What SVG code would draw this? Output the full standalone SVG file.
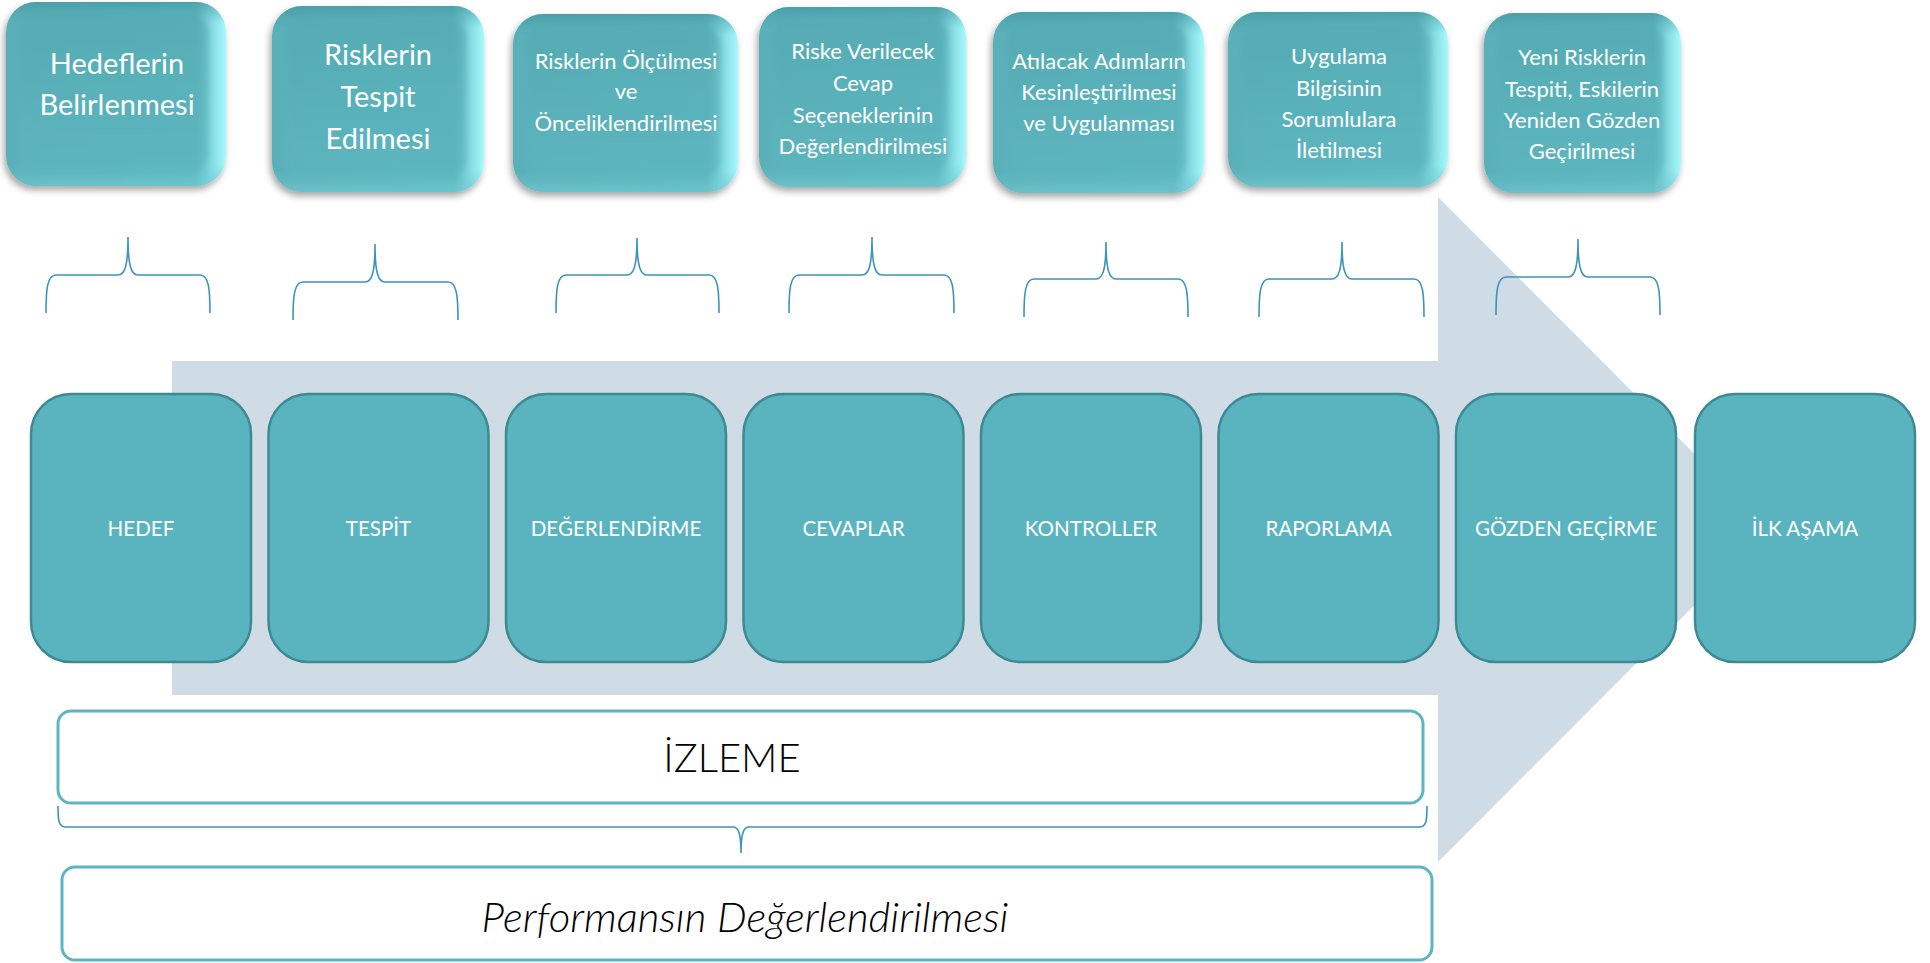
<svg xmlns="http://www.w3.org/2000/svg" width="1930" height="963" viewBox="0 0 1930 963">
<defs>
<style>
.top text{font-family:Lato,"Open Sans","Liberation Sans",sans-serif;fill:#ffffff;text-anchor:middle}
.big{font-size:29px}
.small{font-size:22px}
.step rect{fill:#5AB4C0;stroke:#3E8A93;stroke-width:2.5}
.step text{font-family:Lato,"Open Sans","Liberation Sans",sans-serif;font-size:20.6px;fill:#ffffff;text-anchor:middle}
.brace{fill:none;stroke:#3C93BD;stroke-width:1.6}
.panel rect{fill:#ffffff;stroke:#5BB6C2;stroke-width:3}
.panel text{font-family:Lato,"Open Sans","Liberation Sans",sans-serif;font-weight:300;fill:#000000;text-anchor:middle}
</style>
<linearGradient id="edgeH" x1="0" y1="0" x2="1" y2="0">
<stop offset="0" stop-color="#5AB0B9"/>
<stop offset="0.86" stop-color="#5EB8C1"/>
<stop offset="1" stop-color="#A6FAFE"/>
</linearGradient>
<linearGradient id="edgeV" x1="0" y1="0" x2="0" y2="1">
<stop offset="0" stop-color="#3F8E97" stop-opacity="0.55"/>
<stop offset="0.12" stop-color="#4C9EA7" stop-opacity="0"/>
<stop offset="0.88" stop-color="#6CC6CE" stop-opacity="0"/>
<stop offset="1" stop-color="#74CCD4" stop-opacity="0.6"/>
</linearGradient>
<linearGradient id="face" x1="0" y1="0" x2="0" y2="1">
<stop offset="0" stop-color="#54A9B2"/>
<stop offset="1" stop-color="#5DB7C0"/>
</linearGradient>
<filter id="sh" x="-10%" y="-10%" width="120%" height="125%">
<feDropShadow dx="-2" dy="4" stdDeviation="3.5" flood-color="#000" flood-opacity="0.35"/>
</filter>
<filter id="soft" x="-5%" y="-5%" width="110%" height="110%">
<feGaussianBlur stdDeviation="3"/>
</filter>
</defs>
<rect x="0" y="0" width="1930" height="963" fill="#ffffff"/>

<g id="arrow">
<polygon points="172,361 1438,361 1438,197 1770,529.5 1438,862 1438,695 172,695" fill="#CFDCE6"/>
</g>

<g id="top-boxes" class="top">
<g id="t1">
<rect x="6" y="2" width="220" height="184" rx="30" fill="url(#edgeH)" filter="url(#sh)"/>
<rect x="6" y="2" width="220" height="184" rx="30" fill="url(#edgeV)"/>
<rect x="20" y="14" width="188" height="158" rx="18" fill="url(#face)" opacity="0.7" filter="url(#soft)"/>
<text class="big" x="117" y="74">Hedeflerin</text>
<text class="big" x="117" y="115">Belirlenmesi</text>
</g>
<g id="t2">
<rect x="272" y="6" width="212" height="186" rx="30" fill="url(#edgeH)" filter="url(#sh)"/>
<rect x="272" y="6" width="212" height="186" rx="30" fill="url(#edgeV)"/>
<rect x="286" y="18" width="180" height="160" rx="18" fill="url(#face)" opacity="0.7" filter="url(#soft)"/>
<text class="big" x="378" y="65">Risklerin</text>
<text class="big" x="378" y="107">Tespit</text>
<text class="big" x="378" y="149">Edilmesi</text>
</g>
<g id="t3">
<rect x="513" y="14" width="225" height="178" rx="30" fill="url(#edgeH)" filter="url(#sh)"/>
<rect x="513" y="14" width="225" height="178" rx="30" fill="url(#edgeV)"/>
<rect x="527" y="26" width="193" height="152" rx="18" fill="url(#face)" opacity="0.7" filter="url(#soft)"/>
<text class="small" x="626" y="69">Risklerin Ölçülmesi</text>
<text class="small" x="626" y="99">ve</text>
<text class="small" x="626" y="131">Önceliklendirilmesi</text>
</g>
<g id="t4">
<rect x="759" y="7" width="207" height="180" rx="30" fill="url(#edgeH)" filter="url(#sh)"/>
<rect x="759" y="7" width="207" height="180" rx="30" fill="url(#edgeV)"/>
<rect x="773" y="19" width="175" height="154" rx="18" fill="url(#face)" opacity="0.7" filter="url(#soft)"/>
<text class="small" x="863" y="59">Riske Verilecek</text>
<text class="small" x="863" y="91">Cevap</text>
<text class="small" x="863" y="123">Seçeneklerinin</text>
<text class="small" x="863" y="154">Değerlendirilmesi</text>
</g>
<g id="t5">
<rect x="993" y="12" width="211" height="181" rx="30" fill="url(#edgeH)" filter="url(#sh)"/>
<rect x="993" y="12" width="211" height="181" rx="30" fill="url(#edgeV)"/>
<rect x="1007" y="24" width="179" height="155" rx="18" fill="url(#face)" opacity="0.7" filter="url(#soft)"/>
<text class="small" x="1099" y="69">Atılacak Adımların</text>
<text class="small" x="1099" y="100">Kesinleştirilmesi</text>
<text class="small" x="1099" y="131">ve Uygulanması</text>
</g>
<g id="t6">
<rect x="1228" y="12" width="220" height="175" rx="30" fill="url(#edgeH)" filter="url(#sh)"/>
<rect x="1228" y="12" width="220" height="175" rx="30" fill="url(#edgeV)"/>
<rect x="1242" y="24" width="188" height="149" rx="18" fill="url(#face)" opacity="0.7" filter="url(#soft)"/>
<text class="small" x="1339" y="64">Uygulama</text>
<text class="small" x="1339" y="96">Bilgisinin</text>
<text class="small" x="1339" y="127">Sorumlulara</text>
<text class="small" x="1339" y="158">İletilmesi</text>
</g>
<g id="t7">
<rect x="1484" y="13" width="197" height="180" rx="30" fill="url(#edgeH)" filter="url(#sh)"/>
<rect x="1484" y="13" width="197" height="180" rx="30" fill="url(#edgeV)"/>
<rect x="1498" y="25" width="165" height="154" rx="18" fill="url(#face)" opacity="0.7" filter="url(#soft)"/>
<text class="small" x="1582" y="65">Yeni Risklerin</text>
<text class="small" x="1582" y="97">Tespiti, Eskilerin</text>
<text class="small" x="1582" y="128">Yeniden Gözden</text>
<text class="small" x="1582" y="159">Geçirilmesi</text>
</g>
</g>

<g id="connectors">
<path class="brace" d="M46 313 C46 290,47 275,56 275 L118 275 C125 275,128 265,128 237 C128 265,131 275,138 275 L200 275 C209 275,210 290,210 313"/>
<path class="brace" d="M293 320 C293 297,294 282,303 282 L365 282 C372 282,375 272,375 244 C375 272,378 282,385 282 L448 282 C457 282,458 297,458 320"/>
<path class="brace" d="M556 313 C556 290,557 275,566 275 L627 275 C634 275,637 265,637 238 C637 265,640 275,647 275 L709 275 C718 275,719 290,719 313"/>
<path class="brace" d="M789 313 C789 290,790 275,799 275 L862 275 C869 275,872 265,872 237 C872 265,875 275,882 275 L944 275 C953 275,954 290,954 313"/>
<path class="brace" d="M1024 317 C1024 294,1025 279,1034 279 L1096 279 C1103 279,1106 269,1106 242 C1106 269,1109 279,1116 279 L1178 279 C1187 279,1188 294,1188 317"/>
<path class="brace" d="M1259 317 C1259 294,1260 279,1269 279 L1332 279 C1339 279,1342 269,1342 242 C1342 269,1345 279,1352 279 L1414 279 C1423 279,1424 294,1424 317"/>
<path class="brace" d="M1496 315 C1496 292,1497 277,1506 277 L1568 277 C1575 277,1578 267,1578 239 C1578 267,1581 277,1588 277 L1650 277 C1659 277,1660 292,1660 315"/>
<path class="brace" stroke-width="1.3" d="M58 806 C58 822,59 827,66 827 L733 827 C738 827,741 832,741 853 C741 832,744 827,749 827 L1419 827 C1426 827,1427 822,1427 806"/>
</g>

<g id="steps" class="step">
<g id="s1"><rect x="31" y="394" width="220" height="268" rx="40"/><text x="141" y="536">HEDEF</text></g>
<g id="s2"><rect x="268.5" y="394" width="220" height="268" rx="40"/><text x="378.5" y="536">TESPİT</text></g>
<g id="s3"><rect x="506" y="394" width="220" height="268" rx="40"/><text x="616" y="536">DEĞERLENDİRME</text></g>
<g id="s4"><rect x="743.5" y="394" width="220" height="268" rx="40"/><text x="853.5" y="536">CEVAPLAR</text></g>
<g id="s5"><rect x="981" y="394" width="220" height="268" rx="40"/><text x="1091" y="536">KONTROLLER</text></g>
<g id="s6"><rect x="1218.5" y="394" width="220" height="268" rx="40"/><text x="1328.5" y="536">RAPORLAMA</text></g>
<g id="s7"><rect x="1456" y="394" width="220" height="268" rx="40"/><text x="1566" y="536">GÖZDEN GEÇİRME</text></g>
<g id="s8"><rect x="1695" y="394" width="220" height="268" rx="40"/><text x="1805" y="536">İLK AŞAMA</text></g>
</g>

<g id="izleme" class="panel">
<rect x="58" y="711" width="1365" height="92" rx="13"/>
<text x="732" y="772" font-size="40">İZLEME</text>
</g>
<g id="performans" class="panel">
<rect x="62" y="867" width="1370" height="93" rx="13"/>
<text x="745" y="932" font-size="42" font-style="italic">Performansın Değerlendirilmesi</text>
</g>
</svg>
